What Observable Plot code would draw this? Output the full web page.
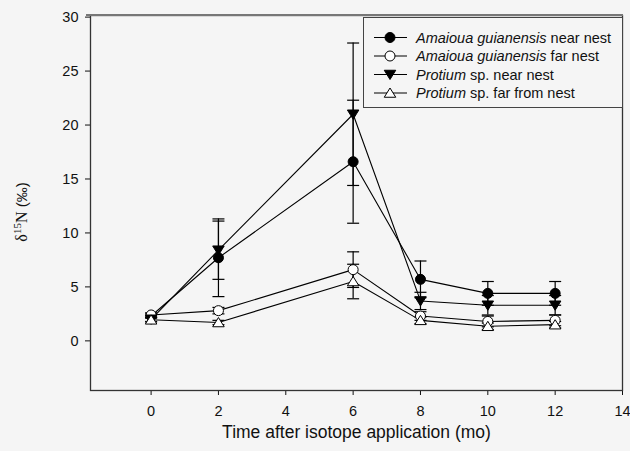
<!DOCTYPE html>
<html>
<head>
<meta charset="utf-8">
<script src="https://cdn.jsdelivr.net/npm/d3@7"></script>
<script src="https://cdn.jsdelivr.net/npm/@observablehq/plot@0.6"></script>
<style>
  html, body { margin: 0; padding: 0; background: #f5f5f5; }
  #chart { width: 630px; height: 451px; }
</style>
</head>
<body>
<div id="chart"></div>
<script>
// ---- data ----
const months = [0, 2, 6, 8, 10, 12];
const seriesNames = [
  "Amaioua guianensis near nest",
  "Amaioua guianensis far nest",
  "Protium sp. near nest",
  "Protium sp. far from nest"
];
const seriesItalic = ["Amaioua guianensis", "Amaioua guianensis", "Protium", "Protium"];
const amaiouaNear    = [2.3, 7.7, 16.6, 5.7, 4.4, 4.4];
const amaiouaNearErr = [0.2, 3.6, 5.7, 1.7, 1.1, 1.1];
const amaiouaFar     = [2.4, 2.8, 6.6, 2.3, 1.8, 1.9];
const amaiouaFarErr  = [0.2, 0.3, 1.65, 0.4, 0.5, 0.5];
const protiumNear    = [2.0, 8.4, 21.0, 3.7, 3.3, 3.3];
const protiumNearErr = [0.2, 2.7, 6.6, 0.8, 0.9, 0.9];
const protiumFar     = [1.95, 1.7, 5.5, 1.9, 1.35, 1.5];
const protiumFarErr  = [0.2, 0.2, 1.6, 0.3, 0.3, 0.3];
const xTicks = [0, 2, 4, 6, 8, 10, 12, 14];
const yTicks = [0, 5, 10, 15, 20, 25, 30];
const xTitle = "Time after isotope application (mo)";
const yTitleParts = ["δ", "15", "N", " (‰)"];

// ---- build table ----
const values = [amaiouaNear, amaiouaFar, protiumNear, protiumFar];
const errors = [amaiouaNearErr, amaiouaFarErr, protiumNearErr, protiumFarErr];
const data = [];
seriesNames.forEach((s, i) => months.forEach((m, j) => data.push({
  series: s, idx: i, month: m, v: values[i][j], lo: values[i][j] - errors[i][j], hi: values[i][j] + errors[i][j]
})));

// symbols
const triUp = {draw(ctx, size) { const r = Math.sqrt(size / Math.PI);
  ctx.moveTo(0, -r); ctx.lineTo(r * 1.15, r * 0.85); ctx.lineTo(-r * 1.15, r * 0.85); ctx.closePath(); }};
const triDown = {draw(ctx, size) { const r = Math.sqrt(size / Math.PI);
  ctx.moveTo(0, r); ctx.lineTo(r * 1.15, -r * 0.85); ctx.lineTo(-r * 1.15, -r * 0.85); ctx.closePath(); }};
const cap = {draw(ctx, size) { ctx.moveTo(-6, 0); ctx.lineTo(6, 0); }};
const symbols = ["circle", "circle", triDown, triUp];
const fills = ["black", "white", "black", "white"];

const markFor = (i) => Plot.dot(data.filter(d => d.idx === i), {
  x: "month", y: "v", r: 5, symbol: () => symbols[i], fill: fills[i], stroke: "black", strokeWidth: 1
});

const FONT = "'Liberation Sans', Arial, sans-serif";
const plot = Plot.plot({
  width: 630, height: 451,
  marginLeft: 90, marginRight: 8, marginTop: 15, marginBottom: 61,
  style: {background: "transparent", fontFamily: FONT, fontSize: "14.5px", color: "#111"},
  x: {domain: [-1.8, 14], ticks: xTicks, tickSize: 5, tickPadding: 10, label: null},
  y: {domain: [-4.6, 30.15], ticks: yTicks, tickSize: 5, tickPadding: 7, label: null},
  marks: [
    Plot.frame({stroke: "#333", strokeWidth: 1.3}),
    Plot.line(data, {x: "month", y: "v", z: "series", stroke: "black", strokeWidth: 1.1}),
    Plot.ruleX(data, {x: "month", y1: "lo", y2: "hi", stroke: "black", strokeWidth: 1.2}),
    Plot.dot(data, {x: "month", y: "lo", symbol: cap, stroke: "black", strokeWidth: 1.2, fill: "none"}),
    Plot.dot(data, {x: "month", y: "hi", symbol: cap, stroke: "black", strokeWidth: 1.2, fill: "none"}),
    markFor(0), markFor(1), markFor(2), markFor(3),
    Plot.text([xTitle], {frameAnchor: "bottom", dy: 47, fontSize: 17.5, fill: "#111"})
  ]
});
document.getElementById("chart").appendChild(plot);

const svg = d3.select(plot);
// top frame edge (gray, thicker as in reference)
svg.append("line").attr("x1", 86).attr("x2", 623).attr("y1", 15).attr("y2", 15)
  .attr("stroke", "#777").attr("stroke-width", 2.2);

// y-axis title with superscript
const yt = svg.append("text").attr("transform", "translate(27,212) rotate(-90)")
  .attr("text-anchor", "middle").attr("fill", "#111").attr("font-size", 16);
yt.append("tspan").attr("font-family", "'Liberation Serif', 'Times New Roman', serif").text(yTitleParts[0]);
yt.append("tspan").attr("font-family", "'Liberation Serif', 'Times New Roman', serif").attr("font-size", 11).attr("dy", -6).text(yTitleParts[1]);
yt.append("tspan").attr("font-family", "'Liberation Serif', 'Times New Roman', serif").attr("dy", 6).text(yTitleParts[2]);
yt.append("tspan").attr("font-family", FONT).attr("font-size", 15).text(yTitleParts[3]);

// ---- legend (inside plot area, top right) ----
const lg = svg.append("g").attr("font-family", FONT).attr("font-size", 14.5).attr("fill", "#111").attr("text-anchor", "start");
lg.append("rect").attr("x", 363.5).attr("y", 17.5).attr("width", 259).attr("height", 90)
  .attr("fill", "#f5f5f5").attr("stroke", "#444").attr("stroke-width", 1);
seriesNames.forEach((name, i) => {
  const cy = 37.5 + i * 18.5;
  lg.append("line").attr("x1", 374).attr("x2", 407).attr("y1", cy).attr("y2", cy).attr("stroke", "black").attr("stroke-width", 1.2);
  const sym = d3.symbol().type(symbols[i] === "circle" ? d3.symbolCircle : symbols[i]).size(25 * Math.PI);
  lg.append("path").attr("d", sym()).attr("transform", `translate(390,${cy})`)
    .attr("fill", fills[i]).attr("stroke", "black").attr("stroke-width", 1);
  const t = lg.append("text").attr("x", 416).attr("y", cy).attr("dy", "0.35em").attr("text-anchor", "start");
  const it = seriesItalic[i];
  t.append("tspan").attr("font-style", "italic").text(it);
  t.append("tspan").text(name.slice(it.length));
});
</script>
</body>
</html>
